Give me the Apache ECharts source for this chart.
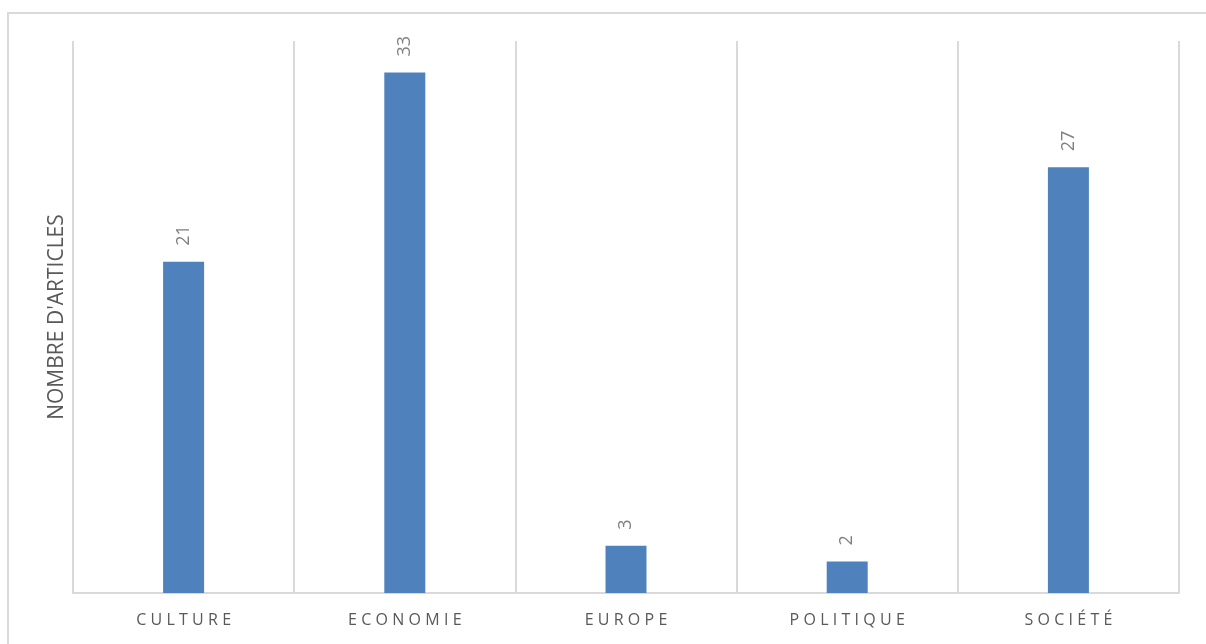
<!DOCTYPE html>
<html>
<head>
<meta charset="utf-8">
<script src="https://cdn.jsdelivr.net/npm/echarts@6/dist/echarts.min.js"></script>
<style>
  html, body { margin: 0; padding: 0; background: #fff; }
  #frame { position: absolute; left: 7px; top: 12px; width: 1220px; height: 660px; border: 2px solid #d9d9d9; box-sizing: border-box; }
  #chart { position: absolute; left: 0; top: 0; width: 1206px; height: 644px; }
</style>
</head>
<body>
<div id="frame"></div>
<div id="chart"></div>
<script>
const categories = ['CULTURE', 'ECONOMIE', 'EUROPE', 'POLITIQUE', 'SOCIÉTÉ'];
const articleCounts = [21, 33, 3, 2, 27];
const axisTitle = "NOMBRE D'ARTICLES";

const chart = echarts.init(document.getElementById('chart'), null, { renderer: 'canvas' });
const gray = '#d9d9d9';
const font = '"Open Sans", "Liberation Sans", sans-serif';

chart.setOption({
  animation: false,
  grid: { left: 73, right: 27, top: 41, bottom: 51 },
  xAxis: {
    type: 'category',
    data: categories,
    boundaryGap: true,
    axisLine: { show: true, lineStyle: { color: gray, width: 2 } },
    axisTick: { show: false },
    splitLine: { show: true, lineStyle: { color: gray, width: 2 } },
    axisLabel: {
      color: '#595959',
      fontFamily: font,
      fontSize: 16,
      margin: 19,
      // spread the letters of each category name
      formatter: v => v.split('').join('\u2009\u200A')
    }
  },
  yAxis: {
    type: 'value',
    min: 0,
    max: 35,
    name: axisTitle,
    nameLocation: 'middle',
    nameGap: 5,
    nameTextStyle: { color: '#595959', fontFamily: font, fontSize: 21 },
    axisLine: { show: false },
    axisTick: { show: false },
    axisLabel: { show: false },
    splitLine: { show: false }
  },
  series: [{
    type: 'bar',
    data: articleCounts,
    barWidth: 41,
    itemStyle: { color: '#4f81bd' },
    label: {
      show: true,
      position: 'top',
      rotate: 90,
      align: 'left',
      verticalAlign: 'middle',
      distance: 16,
      color: '#7f7f7f',
      fontFamily: font,
      fontSize: 18
    }
  }]
});
</script>
</body>
</html>
